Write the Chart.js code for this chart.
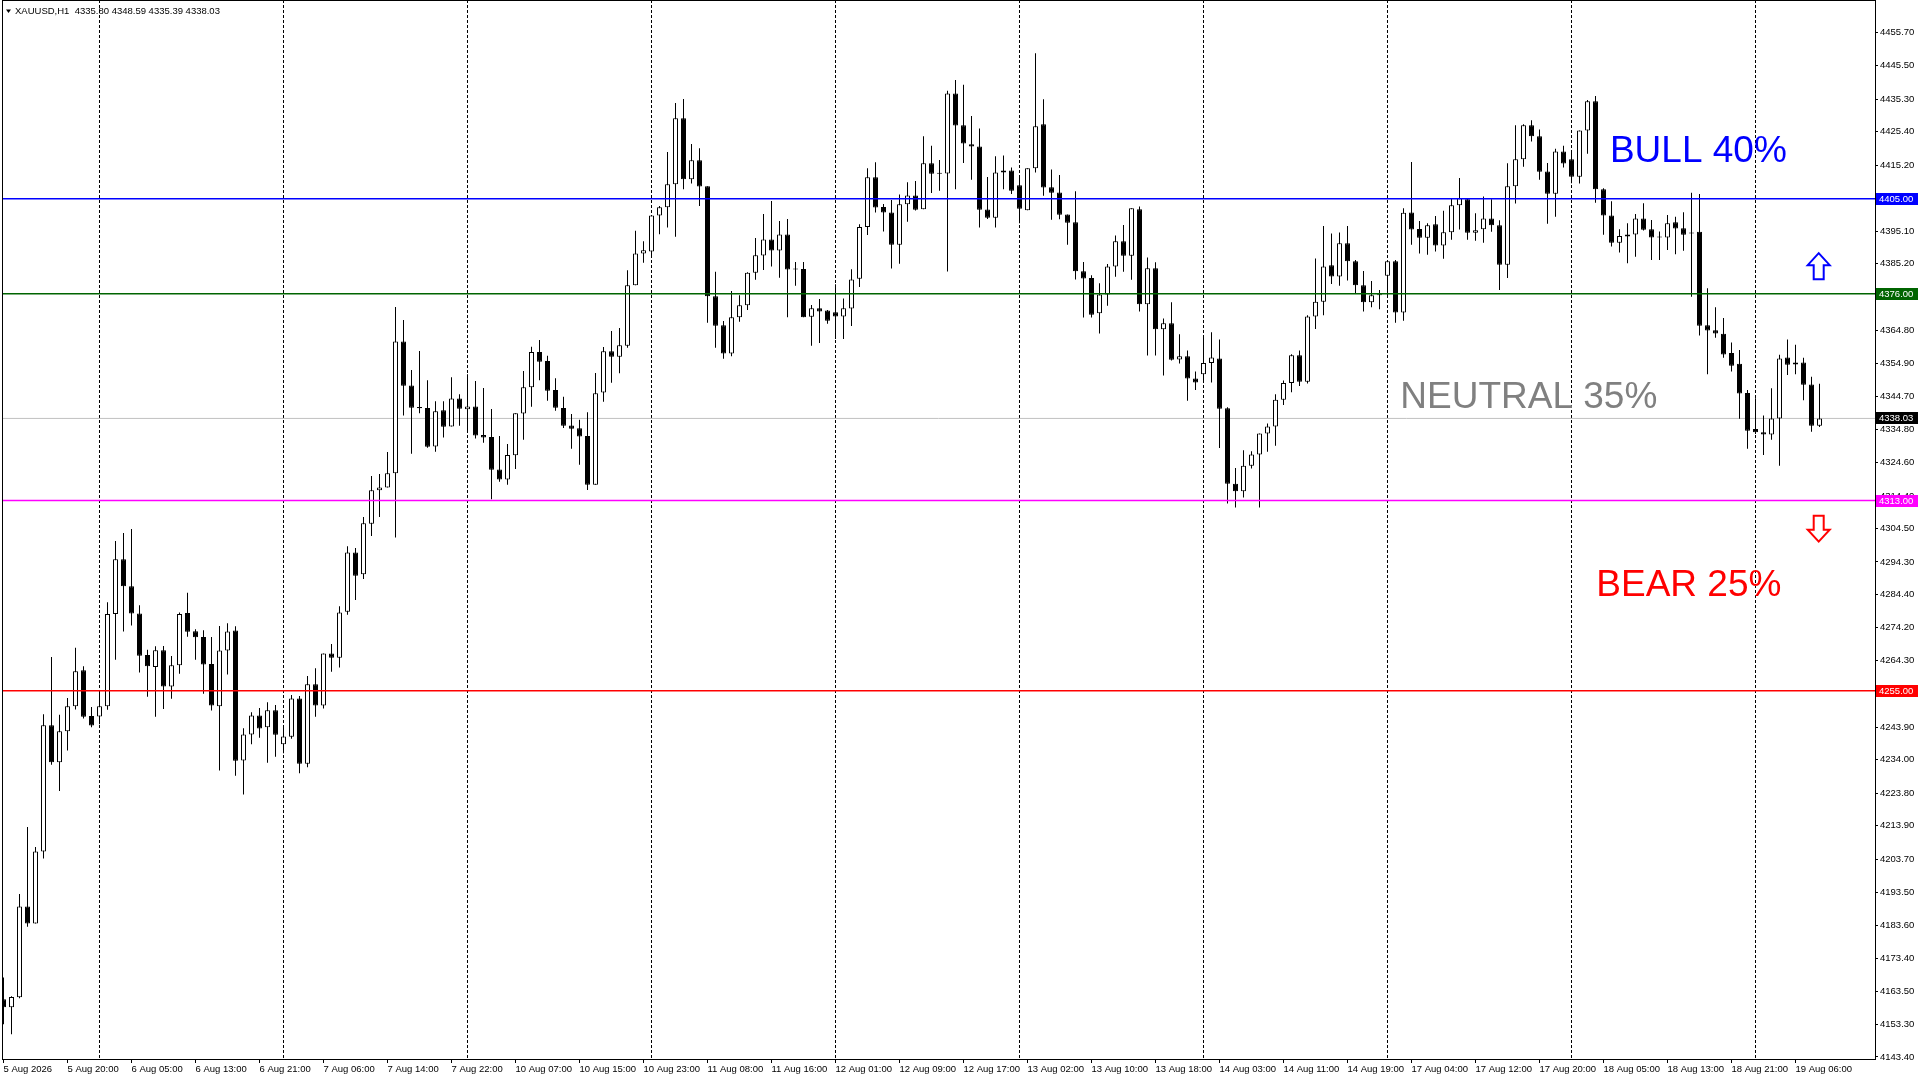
<!DOCTYPE html>
<html>
<head>
<meta charset="utf-8">
<title>XAUUSD,H1</title>
<script src="https://cdn.jsdelivr.net/npm/chart.js@4.4.1/dist/chart.umd.min.js"></script>
<style>
  html, body { margin: 0; padding: 0; background: #fff; overflow: hidden; }
  canvas { display: block; }
</style>
</head>
<body>
<canvas id="chart" width="1920" height="1080"></canvas>
<script>
// XAUUSD H1 candles, 5 Aug 12:00 -> 19 Aug 11:00

const symbolTitle = 'XAUUSD,H1';

const opens = [
  4161.0, 4158.6, 4161.6, 4189.3, 4184.1, 4206.0, 4244.5, 4233.2, 4242.7, 4250.3,
  4261.3, 4247.3, 4247.2, 4250.3, 4278.4, 4295.1, 4286.9, 4278.6, 4265.9, 4262.3,
  4267.4, 4256.3, 4262.8, 4278.7, 4273.2, 4271.4, 4263.2, 4250.3, 4267.3, 4273.4,
  4233.8, 4241.7, 4247.5, 4243.9, 4249.1, 4238.7, 4241.0, 4252.7, 4232.8, 4257.0,
  4250.5, 4266.4, 4265.1, 4279.1, 4297.2, 4290.5, 4305.9, 4316.1, 4317.0, 4321.3,
  4361.5, 4348.1, 4341.5, 4341.2, 4329.5, 4340.5, 4335.6, 4344.1, 4340.8, 4341.7,
  4333.0, 4332.4, 4322.5, 4319.4, 4326.8, 4339.5, 4347.5, 4358.3, 4355.5, 4346.7,
  4341.2, 4335.9, 4335.0, 4332.7, 4317.8, 4345.9, 4358.5, 4356.8, 4360.2, 4378.6,
  4388.3, 4388.9, 4399.9, 4402.4, 4409.4, 4429.5, 4410.9, 4416.7, 4408.8, 4375.3,
  4366.4, 4357.8, 4368.9, 4372.5, 4382.4, 4387.7, 4392.6, 4389.2, 4394.1, 4383.5,
  4383.6, 4369.0, 4371.6, 4370.9, 4370.4, 4369.1, 4371.5, 4380.6, 4396.4, 4411.5,
  4402.5, 4400.8, 4391.0, 4403.3, 4406.0, 4401.8, 4415.8, 4412.7, 4412.7, 4437.1,
  4427.4, 4421.6, 4420.9, 4401.7, 4399.2, 4413.0, 4413.6, 4409.1, 4401.5, 4414.3,
  4427.7, 4408.5, 4406.9, 4400.2, 4397.8, 4382.9, 4380.8, 4370.1, 4375.8, 4384.3,
  4392.0, 4387.6, 4401.8, 4372.8, 4383.8, 4365.2, 4367.0, 4356.0, 4357.0, 4350.2,
  4351.5, 4354.9, 4356.3, 4341.1, 4318.1, 4315.8, 4323.6, 4327.0, 4333.4, 4335.6,
  4343.7, 4348.8, 4357.3, 4349.2, 4369.1, 4373.6, 4384.7, 4381.3, 4391.4, 4385.9,
  4378.6, 4373.4, 4375.6, 4381.5, 4385.9, 4370.3, 4400.8, 4395.8, 4393.1, 4397.2,
  4390.7, 4394.8, 4403.0, 4404.8, 4394.6, 4395.7, 4399.0, 4396.9, 4384.9, 4408.8,
  4417.0, 4427.4, 4424.0, 4413.3, 4406.5, 4419.4, 4417.0, 4411.7, 4425.8, 4434.7,
  4407.9, 4399.9, 4391.6, 4393.5, 4394.1, 4399.0, 4395.7, 4393.2, 4393.2, 4397.8,
  4396.0, 4394.5, 4394.9, 4366.4, 4364.9, 4363.8, 4358.0, 4354.7, 4345.8, 4334.8,
  4333.8, 4333.1, 4338.0, 4356.6, 4354.5, 4355.1, 4348.4, 4335.80
];

const highs = [
  4167.6, 4161.9, 4193.1, 4213.5, 4207.4, 4247.9, 4265.3, 4247.7, 4252.8, 4268.1,
  4262.5, 4250.1, 4254.4, 4282.0, 4300.7, 4303.1, 4304.3, 4281.1, 4267.5, 4268.6,
  4268.7, 4265.6, 4278.9, 4284.9, 4273.8, 4273.5, 4271.4, 4274.8, 4275.6, 4274.7,
  4243.6, 4248.5, 4249.8, 4251.5, 4250.7, 4243.9, 4253.7, 4253.4, 4259.5, 4261.9,
  4266.4, 4269.3, 4280.8, 4299.1, 4298.5, 4308.0, 4320.5, 4321.1, 4327.8, 4372.0,
  4368.0, 4352.8, 4358.6, 4349.7, 4343.3, 4343.3, 4350.6, 4345.4, 4351.5, 4349.4,
  4347.3, 4340.9, 4332.7, 4330.2, 4339.6, 4352.5, 4359.9, 4361.9, 4357.1, 4350.3,
  4344.6, 4339.4, 4337.6, 4339.9, 4351.9, 4359.8, 4364.7, 4365.6, 4383.2, 4395.2,
  4392.0, 4400.0, 4402.8, 4419.2, 4434.2, 4435.4, 4421.7, 4420.4, 4408.8, 4382.7,
  4367.7, 4376.9, 4375.6, 4382.6, 4393.0, 4400.3, 4404.3, 4398.2, 4398.8, 4385.7,
  4385.7, 4372.6, 4374.4, 4371.1, 4378.9, 4374.6, 4383.5, 4397.2, 4414.3, 4416.1,
  4403.4, 4404.6, 4406.3, 4410.0, 4410.4, 4424.0, 4421.1, 4416.8, 4437.9, 4441.2,
  4439.7, 4430.2, 4426.4, 4411.6, 4417.9, 4418.2, 4414.5, 4412.2, 4414.3, 4449.3,
  4435.3, 4413.9, 4412.2, 4400.2, 4407.3, 4385.7, 4381.7, 4379.2, 4385.1, 4393.8,
  4397.0, 4402.1, 4402.6, 4387.1, 4385.6, 4368.5, 4373.4, 4363.7, 4358.7, 4352.3,
  4362.7, 4364.3, 4362.1, 4341.4, 4322.9, 4328.3, 4328.0, 4333.4, 4336.5, 4345.4,
  4349.6, 4357.6, 4358.7, 4369.5, 4386.8, 4396.7, 4394.4, 4394.7, 4396.7, 4386.3,
  4383.0, 4379.9, 4377.2, 4386.0, 4386.3, 4402.1, 4416.2, 4398.2, 4397.5, 4399.7,
  4401.3, 4405.1, 4411.3, 4405.1, 4400.6, 4405.7, 4404.8, 4398.4, 4415.8, 4427.4,
  4427.7, 4428.9, 4426.1, 4415.9, 4420.2, 4421.1, 4419.0, 4425.8, 4435.1, 4436.3,
  4408.2, 4404.2, 4395.7, 4397.5, 4400.3, 4403.6, 4398.5, 4395.0, 4400.0, 4399.5,
  4400.9, 4406.8, 4406.4, 4377.7, 4371.9, 4368.6, 4361.2, 4358.9, 4346.7, 4344.2,
  4338.9, 4347.2, 4357.4, 4362.1, 4360.5, 4356.5, 4350.7, 4348.59
];

const lows = [
  4153.4, 4150.3, 4161.3, 4183.1, 4184.1, 4203.9, 4232.5, 4224.5, 4236.8, 4249.3,
  4246.6, 4243.9, 4244.8, 4249.2, 4264.5, 4273.1, 4274.9, 4260.6, 4253.2, 4247.1,
  4249.5, 4252.6, 4260.2, 4271.5, 4264.5, 4254.1, 4249.0, 4230.7, 4260.0, 4229.1,
  4223.4, 4238.7, 4240.7, 4233.1, 4234.9, 4236.0, 4240.4, 4229.9, 4231.7, 4247.1,
  4249.6, 4260.8, 4262.1, 4278.2, 4282.7, 4289.1, 4302.2, 4308.0, 4317.0, 4301.7,
  4338.9, 4327.3, 4339.6, 4329.1, 4327.9, 4332.2, 4335.6, 4335.8, 4333.7, 4331.9,
  4330.6, 4313.4, 4318.7, 4317.8, 4322.6, 4331.5, 4341.6, 4349.7, 4343.4, 4340.4,
  4335.1, 4328.8, 4323.9, 4316.2, 4317.8, 4343.1, 4348.9, 4351.8, 4359.6, 4378.6,
  4385.5, 4387.3, 4394.2, 4396.2, 4393.4, 4407.9, 4409.6, 4402.8, 4367.2, 4359.6,
  4356.2, 4357.0, 4367.5, 4371.1, 4380.3, 4383.3, 4384.3, 4380.9, 4368.9, 4378.5,
  4368.9, 4360.2, 4361.0, 4366.9, 4362.2, 4362.2, 4366.2, 4378.1, 4393.9, 4400.8,
  4395.0, 4383.7, 4385.2, 4398.0, 4401.4, 4401.8, 4406.7, 4407.4, 4382.8, 4407.9,
  4415.9, 4410.8, 4396.2, 4398.8, 4396.2, 4407.9, 4406.4, 4397.5, 4401.5, 4413.0,
  4405.9, 4398.6, 4398.7, 4391.0, 4380.4, 4368.8, 4368.8, 4363.9, 4372.4, 4381.2,
  4382.7, 4380.3, 4370.6, 4357.2, 4357.2, 4351.1, 4355.7, 4354.8, 4343.4, 4346.7,
  4349.0, 4349.0, 4329.0, 4312.1, 4310.9, 4313.9, 4322.8, 4310.9, 4327.9, 4329.7,
  4342.1, 4346.0, 4347.9, 4348.7, 4365.3, 4369.5, 4379.0, 4378.5, 4380.1, 4376.2,
  4370.6, 4371.9, 4371.3, 4375.6, 4367.2, 4367.8, 4391.0, 4388.3, 4387.9, 4388.9,
  4386.7, 4392.5, 4395.6, 4392.5, 4392.2, 4391.6, 4394.9, 4377.2, 4380.8, 4403.5,
  4414.7, 4422.4, 4410.8, 4397.4, 4399.5, 4414.5, 4409.7, 4409.6, 4418.7, 4403.8,
  4394.0, 4390.4, 4388.6, 4385.3, 4387.3, 4395.3, 4386.3, 4386.3, 4389.4, 4388.1,
  4389.1, 4375.1, 4363.3, 4351.5, 4362.6, 4356.5, 4352.3, 4337.9, 4328.8, 4333.3,
  4326.9, 4331.5, 4323.6, 4351.3, 4351.5, 4343.6, 4334.0, 4335.39
];

const closes = [
  4158.6, 4161.7, 4189.3, 4184.1, 4206.0, 4244.5, 4233.2, 4242.7, 4250.3, 4261.0,
  4247.1, 4244.4, 4250.3, 4278.4, 4295.1, 4286.9, 4278.6, 4265.7, 4262.5, 4267.4,
  4256.3, 4262.8, 4278.4, 4273.0, 4271.3, 4263.0, 4250.5, 4267.3, 4273.1, 4233.7,
  4241.7, 4247.5, 4243.5, 4249.1, 4241.6, 4241.1, 4252.7, 4232.8, 4257.0, 4250.5,
  4266.4, 4265.1, 4278.9, 4297.2, 4290.1, 4306.1, 4316.1, 4317.0, 4321.3, 4361.5,
  4348.0, 4341.3, 4341.1, 4329.4, 4340.2, 4335.5, 4344.1, 4341.0, 4341.7, 4332.8,
  4332.2, 4322.4, 4319.4, 4326.9, 4339.6, 4347.5, 4358.3, 4355.3, 4346.5, 4341.3,
  4335.8, 4334.9, 4332.5, 4317.8, 4345.7, 4358.5, 4356.8, 4360.3, 4378.6, 4388.3,
  4389.3, 4399.9, 4402.4, 4409.4, 4429.5, 4410.9, 4416.7, 4408.7, 4375.3, 4366.3,
  4357.8, 4368.9, 4372.5, 4382.4, 4387.8, 4392.6, 4389.2, 4394.1, 4383.4, 4383.4,
  4368.9, 4371.6, 4370.6, 4367.8, 4369.1, 4371.6, 4380.4, 4396.4, 4411.5, 4402.3,
  4400.8, 4391.0, 4403.3, 4406.0, 4401.6, 4415.8, 4412.6, 4412.6, 4437.1, 4427.3,
  4421.8, 4420.9, 4401.6, 4399.2, 4413.0, 4413.6, 4407.4, 4401.9, 4414.3, 4427.1,
  4408.4, 4406.8, 4400.1, 4397.7, 4382.9, 4380.7, 4369.6, 4375.8, 4384.3, 4392.0,
  4387.6, 4402.1, 4372.8, 4383.8, 4365.2, 4367.0, 4355.9, 4357.0, 4350.2, 4349.0,
  4354.9, 4356.6, 4341.0, 4318.1, 4315.8, 4323.6, 4327.0, 4333.4, 4335.6, 4343.7,
  4348.8, 4357.3, 4349.2, 4369.1, 4373.6, 4384.3, 4381.3, 4391.4, 4385.9, 4378.6,
  4373.4, 4375.6, 4375.7, 4385.9, 4370.3, 4400.7, 4395.6, 4393.1, 4396.9, 4390.7,
  4394.8, 4403.0, 4405.1, 4394.6, 4395.4, 4399.0, 4396.9, 4384.9, 4408.8, 4417.0,
  4427.4, 4424.0, 4413.2, 4406.5, 4419.4, 4415.7, 4411.7, 4425.8, 4434.7, 4407.9,
  4399.9, 4391.6, 4393.6, 4394.1, 4399.0, 4395.5, 4393.2, 4393.3, 4397.5, 4395.9,
  4394.0, 4394.4, 4366.3, 4364.8, 4363.9, 4357.5, 4354.1, 4345.6, 4334.3, 4333.8,
  4333.1, 4338.0, 4356.3, 4354.4, 4355.1, 4348.3, 4335.8, 4338.03
];

// bottom axis: one label every 8 bars
const timeLabels = [
  '5 Aug 2026', '5 Aug 20:00', '6 Aug 05:00', '6 Aug 13:00', '6 Aug 21:00',
  '7 Aug 06:00', '7 Aug 14:00', '7 Aug 22:00', '10 Aug 07:00', '10 Aug 15:00',
  '10 Aug 23:00', '11 Aug 08:00', '11 Aug 16:00', '12 Aug 01:00', '12 Aug 09:00',
  '12 Aug 17:00', '13 Aug 02:00', '13 Aug 10:00', '13 Aug 18:00', '14 Aug 03:00',
  '14 Aug 11:00', '14 Aug 19:00', '17 Aug 04:00', '17 Aug 12:00', '17 Aug 20:00',
  '18 Aug 05:00', '18 Aug 13:00', '18 Aug 21:00', '19 Aug 06:00'
];
const LABEL_EVERY = 8;

// dashed vertical grid, every 23 bars
const gridBars = [12, 35, 58, 81, 104, 127, 150, 173, 196, 219];

const priceTicks = [
  4455.70, 4445.50, 4435.30, 4425.40, 4415.20, 4405.00, 4395.10, 4385.20,
  4375.00, 4364.80, 4354.90, 4344.70, 4334.80, 4324.60, 4314.40, 4304.50,
  4294.30, 4284.40, 4274.20, 4264.30, 4254.10, 4243.90, 4234.00, 4223.80,
  4213.90, 4203.70, 4193.50, 4183.60, 4173.40, 4163.50, 4153.30, 4143.40
];

// horizontal levels drawn on the chart
const levelPrices = [4405.00, 4376.00, 4313.00, 4255.00];
const levelColors = ['#0000ff', '#006400', '#ff00ff', '#ff0000'];

// scenario labels
const zoneTexts = ['BULL 40%', 'NEUTRAL 35%', 'BEAR 25%'];
const zoneColors = ['#0000ff', '#808080', '#ff0000'];

// view window
const X_MIN = -0.1875, X_MAX = 233.9375;
const Y_MIN = 4142.79, Y_MAX = 4465.56;

const FONT = '"Liberation Sans", Arial, sans-serif';
Chart.defaults.font.family = FONT;

const lastClose = closes[closes.length - 1];
const bars = opens.map((_, i) => i);

const wickData = bars.map(i => ({ x: i, y: [lows[i], highs[i]] }));
const bodyData = bars.map(i => ({ x: i, y: [opens[i], closes[i]] }));
const bodyFill = bars.map(i => closes[i] >= opens[i] ? '#ffffff' : '#000000');

function hLine(price, color, width, order) {
    return {
        type: 'line',
        data: [{ x: X_MIN, y: price }, { x: X_MAX, y: price }],
        borderColor: color,
        borderWidth: width,
        pointRadius: 0,
        xAxisID: 'x',
        yAxisID: 'y',
        order: order
    };
}

function drawArrow(ctx, cx, top, up, color) {
    const hw = 11, sw = 5, head = 12, len = 26;
    ctx.beginPath();
    if (up) {
        ctx.moveTo(cx, top);
        ctx.lineTo(cx + hw, top + head);
        ctx.lineTo(cx + sw, top + head);
        ctx.lineTo(cx + sw, top + len);
        ctx.lineTo(cx - sw, top + len);
        ctx.lineTo(cx - sw, top + head);
        ctx.lineTo(cx - hw, top + head);
    } else {
        ctx.moveTo(cx - sw, top);
        ctx.lineTo(cx + sw, top);
        ctx.lineTo(cx + sw, top + len - head);
        ctx.lineTo(cx + hw, top + len - head);
        ctx.lineTo(cx, top + len);
        ctx.lineTo(cx - hw, top + len - head);
        ctx.lineTo(cx - sw, top + len - head);
    }
    ctx.closePath();
    ctx.fillStyle = '#ffffff';
    ctx.fill();
    ctx.strokeStyle = color;
    ctx.lineWidth = 2;
    ctx.stroke();
}

const overlay = {
    id: 'overlay',
    afterDatasetsDraw(chart) {
        const { ctx, scales: { x, y } } = chart;
        ctx.save();
        // scenario texts, anchored in bar/price units
        const anchors = [[200.8, 4416.2], [174.6, 4341.2], [199.1, 4283.8]];
        ctx.font = '37px ' + FONT;
        ctx.textAlign = 'left';
        ctx.textBaseline = 'alphabetic';
        zoneTexts.forEach((t, i) => {
            ctx.fillStyle = zoneColors[i];
            ctx.fillText(t, x.getPixelForValue(anchors[i][0]), y.getPixelForValue(anchors[i][1]));
        });
        drawArrow(ctx, x.getPixelForValue(226.9), y.getPixelForValue(4388.4), true, '#0000ff');
        drawArrow(ctx, x.getPixelForValue(226.9), y.getPixelForValue(4308.4), false, '#ff0000');
        ctx.restore();
    },
    afterDraw(chart) {
        const { ctx, chartArea: a, scales: { y } } = chart;
        ctx.save();
        // frame
        ctx.strokeStyle = '#000';
        ctx.lineWidth = 1;
        ctx.strokeRect(a.left + 0.5, a.top + 0.5, a.right - a.left, a.bottom - a.top);

        // price tags on the right axis
        ctx.font = '9.5px ' + FONT;
        ctx.textBaseline = 'middle';
        ctx.textAlign = 'left';
        const tag = (val, bg) => {
            const py = Math.round(y.getPixelForValue(val));
            ctx.fillStyle = bg;
            ctx.fillRect(a.right + 1, py - 6, 42, 12);
            ctx.fillStyle = '#ffffff';
            ctx.fillText(val.toFixed(2), a.right + 4, py + 0.5);
        };
        levelPrices.forEach((p, k) => tag(p, levelColors[k]));
        tag(lastClose, '#000000');

        // header line
        ctx.font = '9.5px ' + FONT;
        ctx.fillStyle = '#000';
        ctx.beginPath();
        ctx.moveTo(6, 9.5);
        ctx.lineTo(11, 9.5);
        ctx.lineTo(8.5, 13);
        ctx.closePath();
        ctx.fill();
        const o = opens[opens.length - 1], h = highs[highs.length - 1], l = lows[lows.length - 1];
        ctx.fillText(symbolTitle + '  ' + [o, h, l, lastClose].map(v => v.toFixed(2)).join(' '), 15, 11.5);
        ctx.restore();
    }
};

new Chart(document.getElementById('chart'), {
    type: 'bar',
    data: {
        datasets: [
            ...levelPrices.map((p, k) => hLine(p, levelColors[k], 1.5, 0)),
            {
                type: 'bar',
                label: 'bodies',
                data: bodyData,
                backgroundColor: bodyFill,
                borderColor: '#000',
                borderWidth: 1,
                borderSkipped: false,
                barThickness: 5,
                minBarLength: 1,
                inflateAmount: 0,
                grouped: false,
                xAxisID: 'x',
                yAxisID: 'y',
                order: 1
            },
            {
                type: 'bar',
                label: 'wicks',
                data: wickData,
                backgroundColor: '#000',
                borderWidth: 0,
                barThickness: 1,
                inflateAmount: 0,
                grouped: false,
                xAxisID: 'x',
                yAxisID: 'y',
                order: 2
            },
            hLine(lastClose, '#c0c0c0', 1, 3)
        ]
    },
    options: {
        responsive: false,
        devicePixelRatio: 1,
        animation: false,
        events: [],
        layout: { padding: { left: 2, top: 0, right: 0, bottom: 0 } },
        plugins: { legend: { display: false }, tooltip: { enabled: false } },
        scales: {
            x: {
                type: 'linear',
                position: 'bottom',
                min: X_MIN,
                max: X_MAX,
                offset: false,
                afterBuildTicks: s => { s.ticks = timeLabels.map((_, i) => ({ value: i * LABEL_EVERY })); },
                afterFit: s => { s.height = 21; s.paddingLeft = 0; s.paddingRight = 0; },
                ticks: {
                    autoSkip: false,
                    maxRotation: 0,
                    minRotation: 0,
                    align: 'start',
                    padding: 1,
                    color: '#000',
                    font: { size: 9.5 },
                    callback: (v, i) => timeLabels[i]
                },
                grid: { offset: false, drawOnChartArea: false, drawTicks: true, tickLength: 4, color: '#000' },
                border: { display: true, color: '#000', width: 1 }
            },
            xg: {
                type: 'linear',
                position: 'bottom',
                min: X_MIN,
                max: X_MAX,
                offset: false,
                afterBuildTicks: s => { s.ticks = gridBars.map(v => ({ value: v })); },
                afterFit: s => { s.height = 0; },
                ticks: { display: false },
                grid: { offset: false, drawTicks: false, color: '#000', lineWidth: 1 },
                border: { display: false, dash: [3, 2] }
            },
            y: {
                type: 'linear',
                position: 'right',
                min: Y_MIN,
                max: Y_MAX,
                afterBuildTicks: s => { s.ticks = priceTicks.map(v => ({ value: v })); },
                afterFit: s => { s.width = 45; s.paddingTop = 0; s.paddingBottom = 0; },
                ticks: {
                    padding: 2,
                    color: '#000',
                    font: { size: 9.5 },
                    callback: v => Number(v).toFixed(2)
                },
                grid: { drawOnChartArea: false, tickLength: 3, color: '#000' },
                border: { display: true, color: '#000', width: 1 }
            }
        }
    },
    plugins: [overlay]
});
</script>
</body>
</html>
